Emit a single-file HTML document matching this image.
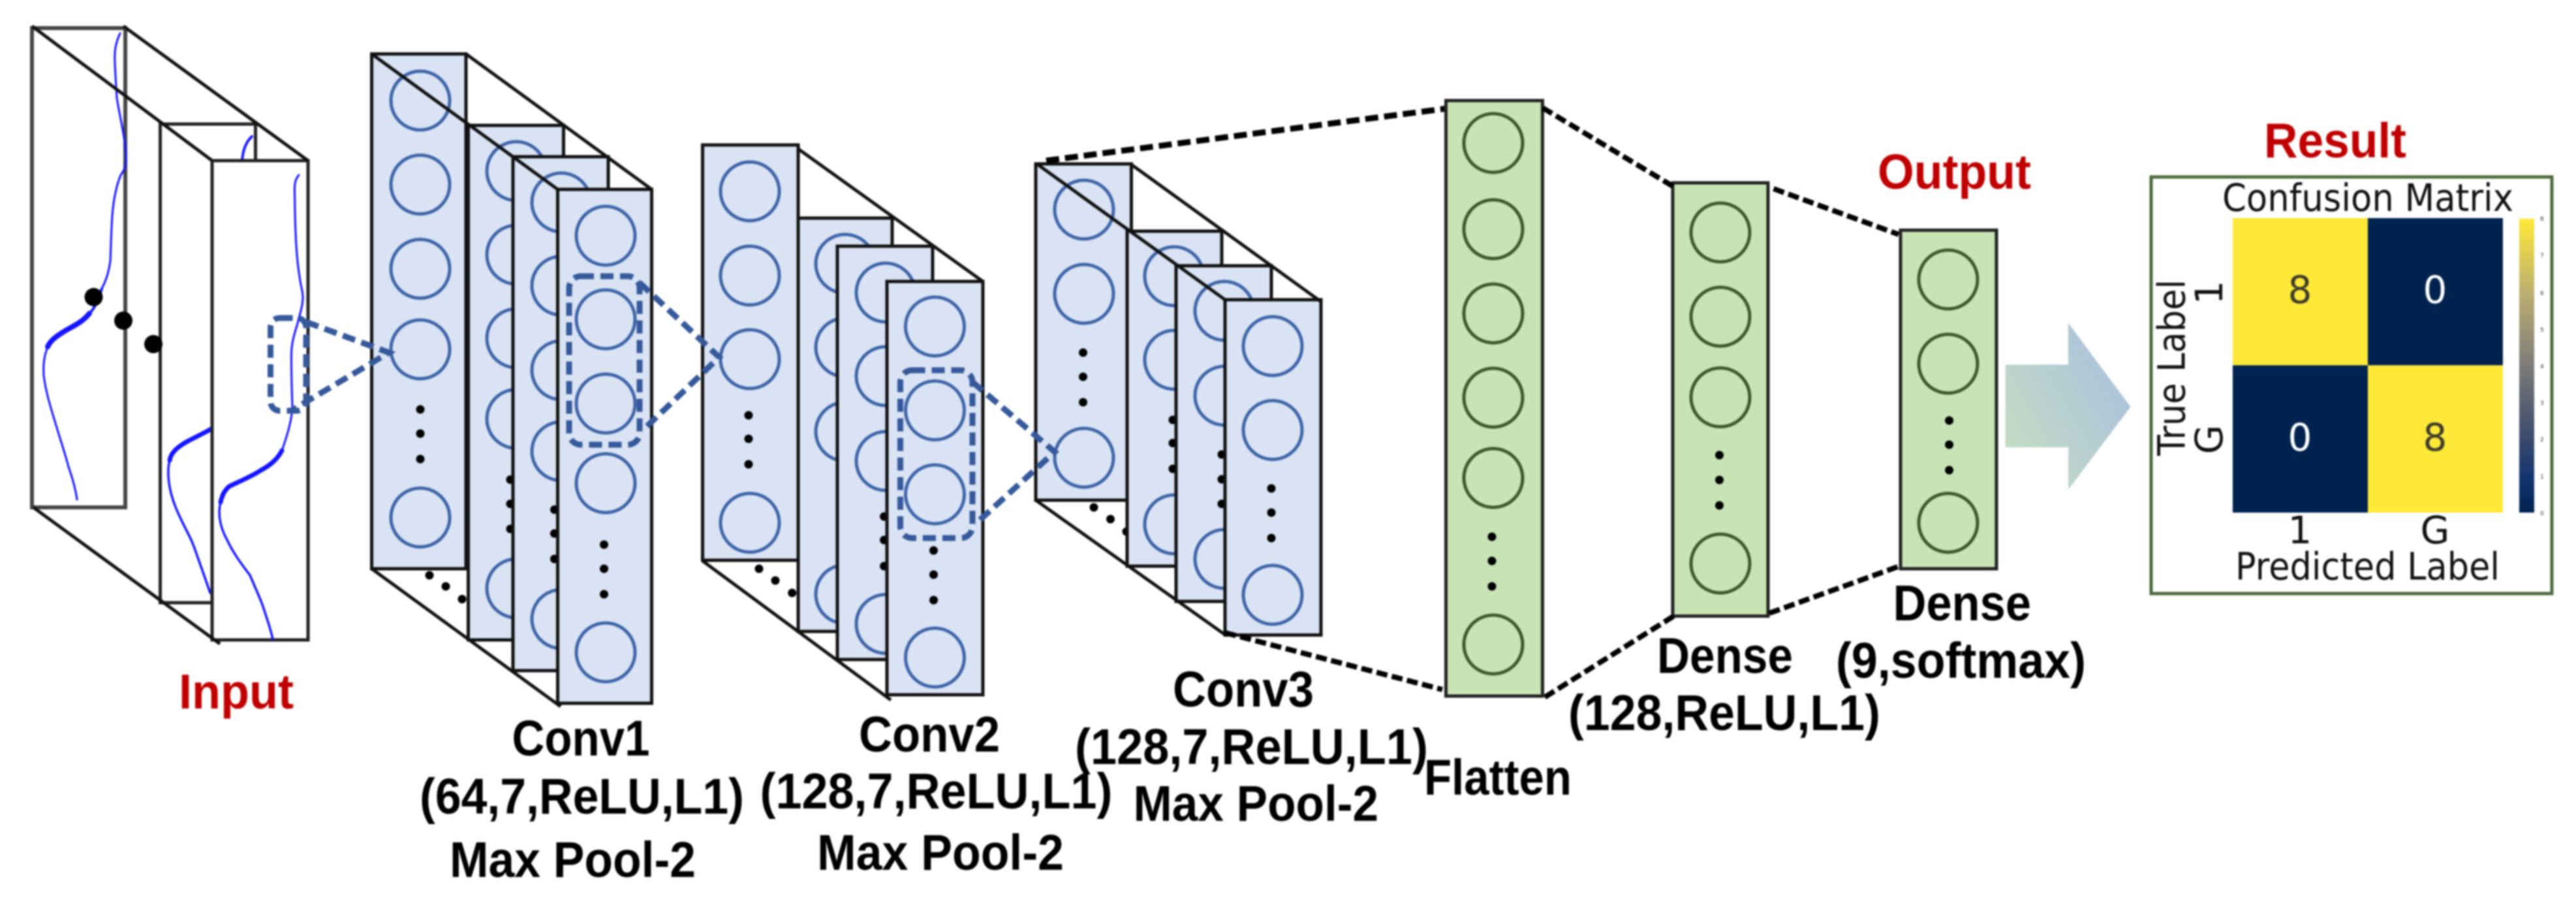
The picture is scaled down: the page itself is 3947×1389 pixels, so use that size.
<!DOCTYPE html>
<html>
<head>
<meta charset="utf-8">
<title>CNN architecture diagram</title>
<style>
html,body{margin:0;padding:0;background:#fff;width:3947px;height:1389px;overflow:hidden}
svg{display:block;filter:blur(1.2px)}
.b{font-family:"Liberation Sans",Arial,sans-serif;font-weight:bold;font-size:77px;fill:#000}
.r{font-family:"Liberation Sans",Arial,sans-serif;font-weight:bold;font-size:75px;fill:#c00000}
.d{font-family:"DejaVu Sans",sans-serif;font-size:58px;fill:#111}
.t{font-family:"DejaVu Sans",sans-serif;font-size:9px;fill:#333}
.fr{fill:#fff;stroke:#222;stroke-width:5}
.bl{fill:#dae3f3;stroke:#111;stroke-width:5}
.gr{fill:#c8e4b5;stroke:#222;stroke-width:5}
.cb{fill:none;stroke:#3d64a8;stroke-width:5}
.cg{fill:none;stroke:#3c5a28;stroke-width:5}
.k{fill:#000}
.di{stroke:#111;stroke-width:5;fill:none}
.cv{fill:none;stroke:#1414ff;stroke-linecap:round}
.bd{fill:none;stroke:#35599b;stroke-width:9;stroke-dasharray:20 10}
.kd{fill:none;stroke:#000;stroke-width:8;stroke-dasharray:17 7}
</style>
</head>
<body>
<svg width="3947" height="1389" viewBox="0 0 3947 1389" xmlns="http://www.w3.org/2000/svg">
<defs>
<linearGradient id="ag" x1="0" y1="1" x2="1" y2="0.25">
<stop offset="0" stop-color="#c6e0bf"/><stop offset="1" stop-color="#abc0de"/>
</linearGradient>
<linearGradient id="cbar" x1="0" y1="1" x2="0" y2="0">
<stop offset="0" stop-color="#00224e"/><stop offset="0.12" stop-color="#123570"/><stop offset="0.25" stop-color="#3b496c"/><stop offset="0.5" stop-color="#7c7b78"/><stop offset="0.75" stop-color="#bcaf6f"/><stop offset="1" stop-color="#fee838"/>
</linearGradient>
</defs>

<!-- INPUT -->
<rect class="fr" x="49" y="43" width="143" height="734" style="stroke:#444;stroke-width:6"/>
<path class="cv" stroke-width="3" d="M184 51C178 64 175 76 176 95C177 120 178 134 179 150C183 175 190 205 192 225C194 245 195 255 185 268C178 285 174 305 172 330C170 360 170 380 169 400C166 420 162 430 156 442"/>
<path class="cv" stroke-width="4" d="M156 442C150 462 145 472 137 480"/>
<path class="cv" stroke-width="8" d="M137 480C125 495 110 500 96 509C85 516 77 522 73 531"/>
<path class="cv" stroke-width="3" d="M73 531C68 545 66 555 67 575C70 600 78 625 84 645C92 672 100 695 105 715C112 735 116 750 118 765"/>
<rect class="fr" x="245.500" y="190" width="146" height="733"/>
<path class="cv" stroke-width="4" d="M386 209C376 218 372 232 371 246"/>
<path class="cv" stroke-width="7" d="M325 656C305 668 285 675 272 686C265 692 261 698 260 705"/>
<path class="cv" stroke-width="3.500" d="M260 705C256 720 257 745 268 774C280 805 292 820 300 845C308 868 316 890 322 908"/>
<rect class="fr" x="325" y="246" width="147" height="734"/>
<path class="cv" stroke-width="3" d="M458 268C452 275 451 282 451.500 296C452 320 452 340 453 357C454 385 456 405 459 424C461 440 464 445 464 455C464 470 458 485 456 495C450 515 447 525 446.500 540C446 565 447 590 448 625C446 650 438 672 432 690"/>
<path class="cv" stroke-width="7" d="M432 690C425 703 415 712 400 720C385 730 365 738 351 745C343 752 340 760 338 769"/>
<path class="cv" stroke-width="3.500" d="M338 769C334 785 336 805 348 827C360 852 375 870 383 881C392 902 398 915 402 926C410 950 415 965 418 979"/>
<path class="di" d="M49 40L325 246M189 40L472 246M51 777L337 986"/>
<ellipse class="k" cx="143.500" cy="455" rx="14" ry="14"/>
<ellipse class="k" cx="189" cy="491" rx="14" ry="14"/>
<ellipse class="k" cx="235" cy="527" rx="14" ry="14"/>

<!-- CONV1 -->
<rect class="bl" x="569.500" y="82.600" width="144.500" height="788.400"/>
<g class="cb"><circle cx="644" cy="154" r="45"/><circle cx="644" cy="282.600" r="45"/><circle cx="644" cy="411.600" r="45"/><circle cx="644" cy="535" r="45"/><circle cx="644" cy="792.500" r="45"/></g>
<circle class="k" cx="644" cy="627" r="6.500"/><circle class="k" cx="644" cy="664" r="6.500"/><circle class="k" cx="644" cy="703" r="6.500"/>
<circle class="k" cx="658" cy="881" r="6.500"/><circle class="k" cx="683" cy="898" r="6.500"/><circle class="k" cx="708" cy="917.500" r="6.500"/>
<rect class="bl" x="717.500" y="192" width="146" height="788"/>
<g class="cb"><circle cx="791" cy="262" r="45"/><circle cx="791" cy="390" r="45"/><circle cx="791" cy="518" r="45"/><circle cx="791" cy="641.500" r="45"/><circle cx="791" cy="901" r="45"/></g>
<circle class="k" cx="782" cy="734.500" r="6.500"/><circle class="k" cx="782" cy="771.600" r="6.500"/><circle class="k" cx="782" cy="810" r="6.500"/>
<rect class="bl" x="786" y="240" width="146" height="787"/>
<g class="cb"><circle cx="860" cy="310" r="45"/><circle cx="860" cy="437.500" r="45"/><circle cx="860" cy="567" r="45"/><circle cx="860" cy="691" r="45"/><circle cx="860" cy="948" r="45"/></g>
<circle class="k" cx="849.500" cy="780.500" r="6.500"/><circle class="k" cx="849.500" cy="817" r="6.500"/><circle class="k" cx="849.500" cy="856" r="6.500"/>
<rect class="bl" x="854.500" y="290" width="144" height="787"/>
<g class="cb"><circle cx="928" cy="361" r="45"/><circle cx="928" cy="489" r="45"/><circle cx="928" cy="618" r="45"/><circle cx="928" cy="740" r="45"/><circle cx="928" cy="999" r="45"/></g>
<circle class="k" cx="925.500" cy="834" r="6.500"/><circle class="k" cx="925.500" cy="871" r="6.500"/><circle class="k" cx="925.500" cy="910" r="6.500"/>
<path class="di" d="M569.500 82.600L854.500 290M714 82.600L998.500 290M569.500 871L859 1082"/>

<!-- CONV2 -->
<rect class="bl" x="1076.500" y="222" width="146.500" height="636"/>
<g class="cb"><circle cx="1149" cy="293" r="45"/><circle cx="1149" cy="422" r="45"/><circle cx="1149" cy="550" r="45"/><circle cx="1149" cy="800.600" r="45"/></g>
<circle class="k" cx="1147" cy="636" r="6.500"/><circle class="k" cx="1147" cy="672" r="6.500"/><circle class="k" cx="1147" cy="711" r="6.500"/>
<circle class="k" cx="1163" cy="871" r="6.500"/><circle class="k" cx="1188" cy="889" r="6.500"/><circle class="k" cx="1213.700" cy="908" r="6.500"/>
<rect class="bl" x="1223" y="334" width="144" height="633"/>
<g class="cb"><circle cx="1295" cy="404" r="45"/><circle cx="1295" cy="532" r="45"/><circle cx="1295" cy="661" r="45"/><circle cx="1295" cy="910" r="45"/></g>
<rect class="bl" x="1283" y="377" width="146" height="633"/>
<g class="cb"><circle cx="1357" cy="448" r="45"/><circle cx="1357" cy="576" r="45"/><circle cx="1357" cy="706" r="45"/><circle cx="1357" cy="955.500" r="45"/></g>
<circle class="k" cx="1354.600" cy="791" r="6.500"/><circle class="k" cx="1354.600" cy="827" r="6.500"/><circle class="k" cx="1354.600" cy="867" r="6.500"/>
<rect class="bl" x="1359" y="431" width="147" height="633"/>
<g class="cb"><circle cx="1432.500" cy="500" r="45"/><circle cx="1432.500" cy="628.500" r="45"/><circle cx="1432.500" cy="757" r="45"/><circle cx="1432.500" cy="1007" r="45"/></g>
<circle class="k" cx="1430.500" cy="843" r="6.500"/><circle class="k" cx="1430.500" cy="880" r="6.500"/><circle class="k" cx="1430.500" cy="919" r="6.500"/>
<path class="di" d="M1223 228L1506 431M1076.500 859L1365 1072"/>

<!-- CONV3 -->
<rect class="bl" x="1587" y="251" width="146.500" height="515"/>
<g class="cb"><circle cx="1661" cy="321" r="45"/><circle cx="1661" cy="450" r="45"/><circle cx="1661" cy="701" r="45"/></g>
<circle class="k" cx="1659.500" cy="540" r="6.500"/><circle class="k" cx="1659.500" cy="577" r="6.500"/><circle class="k" cx="1659.500" cy="616" r="6.500"/>
<circle class="k" cx="1676" cy="777" r="6.500"/><circle class="k" cx="1701.500" cy="795" r="6.500"/><circle class="k" cx="1726" cy="814" r="6.500"/>
<rect class="bl" x="1727" y="354" width="145" height="513"/>
<g class="cb"><circle cx="1799" cy="423" r="45"/><circle cx="1799" cy="551" r="45"/><circle cx="1799" cy="803" r="45"/></g>
<circle class="k" cx="1797" cy="643" r="6.500"/><circle class="k" cx="1797" cy="678.500" r="6.500"/><circle class="k" cx="1797" cy="718" r="6.500"/>
<rect class="bl" x="1802" y="407" width="146" height="514"/>
<g class="cb"><circle cx="1876" cy="476" r="45"/><circle cx="1876" cy="606" r="45"/><circle cx="1876" cy="856" r="45"/></g>
<circle class="k" cx="1872" cy="696" r="6.500"/><circle class="k" cx="1872" cy="734" r="6.500"/><circle class="k" cx="1872" cy="771.600" r="6.500"/>
<rect class="bl" x="1877" y="459" width="147" height="513.500"/>
<g class="cb"><circle cx="1950" cy="530" r="45"/><circle cx="1950" cy="658.500" r="45"/><circle cx="1950" cy="911" r="45"/></g>
<circle class="k" cx="1948" cy="748" r="6.500"/><circle class="k" cx="1948" cy="785" r="6.500"/><circle class="k" cx="1948" cy="824" r="6.500"/>
<path class="di" d="M1590 252L1877 459M1733.500 252L2025.500 463M1587 766L1877 972"/>

<!-- blue dashed connectors on top of the stacks -->
<rect class="bd" x="414.500" y="487" width="54.500" height="142" rx="14"/>
<path class="bd" d="M469 493L596 540L446 629"/>
<rect class="bd" x="872" y="423" width="108" height="258" rx="18"/>
<path class="bd" d="M980 433L1102 547L988 656"/>
<rect class="bd" x="1379.500" y="567" width="110.500" height="257" rx="18"/>
<path class="bd" d="M1490 585L1616 692L1494 803"/>

<path class="kd" stroke-width="9" style="stroke-width:9;stroke-dasharray:20 9" d="M1603 246L2213.600 166.500"/>
<path class="kd" d="M1877 969L2210 1056"/>

<!-- FLATTEN -->
<rect class="gr" x="2215.500" y="154" width="148" height="912"/>
<g class="cg"><circle cx="2288" cy="219" r="45"/><circle cx="2288" cy="351" r="45"/><circle cx="2288" cy="480" r="45"/><circle cx="2288" cy="609" r="45"/><circle cx="2288" cy="732" r="45"/><circle cx="2288" cy="987" r="45"/></g>
<circle class="k" cx="2286" cy="822" r="6.500"/><circle class="k" cx="2286" cy="859" r="6.500"/><circle class="k" cx="2286" cy="898" r="6.500"/>

<!-- DENSE 1 -->
<rect class="gr" x="2563" y="280" width="146" height="663.500"/>
<g class="cg"><circle cx="2636" cy="356" r="45"/><circle cx="2636" cy="485" r="45"/><circle cx="2636" cy="608.500" r="45"/><circle cx="2636" cy="863" r="45"/></g>
<circle class="k" cx="2634.500" cy="697" r="6.500"/><circle class="k" cx="2634.500" cy="735" r="6.500"/><circle class="k" cx="2634.500" cy="774" r="6.500"/>

<!-- DENSE 2 -->
<rect class="gr" x="2912" y="352.500" width="147" height="518.500"/>
<g class="cg"><circle cx="2985" cy="428" r="45"/><circle cx="2985" cy="557" r="45"/><circle cx="2985" cy="800.600" r="45"/></g>
<circle class="k" cx="2986.600" cy="644" r="6.500"/><circle class="k" cx="2986.600" cy="681" r="6.500"/><circle class="k" cx="2986.600" cy="720" r="6.500"/>

<path class="kd" d="M2363.500 165L2564.500 286"/>
<path class="kd" d="M2367 1067.600L2564.500 943.500"/>
<path class="kd" d="M2717.500 289L2909 359"/>
<path class="kd" d="M2711 939L2909 867.500"/>

<!-- ARROW -->
<path fill="url(#ag)" d="M3072.600 558.500H3169V494.600L3264.600 623L3169 750V685H3072.600Z"/>

<!-- RESULT -->
<rect x="3296" y="271" width="614" height="638" fill="#fff" stroke="#4c6a3c" stroke-width="5"/>
<rect x="3421" y="334" width="207" height="225.400" fill="#fee838"/>
<rect x="3628" y="334" width="207" height="225.400" fill="#00224e"/>
<rect x="3421" y="559.400" width="207" height="225.600" fill="#00224e"/>
<rect x="3628" y="559.400" width="207" height="225.600" fill="#fee838"/>
<rect x="3860" y="335" width="23" height="450" fill="url(#cbar)"/>
<g class="t">
<text x="3892" y="338">8</text><text x="3892" y="394">7</text><text x="3892" y="452">6</text><text x="3892" y="508">5</text><text x="3892" y="564">4</text><text x="3892" y="620">3</text><text x="3892" y="676">2</text><text x="3892" y="733">1</text><text x="3892" y="789">0</text>
</g>
<text class="d" x="3524" y="464" text-anchor="middle" style="fill:#3a3a2a">8</text>
<text class="d" x="3731" y="464" text-anchor="middle" style="fill:#fff">0</text>
<text class="d" x="3524" y="690" text-anchor="middle" style="fill:#fff">0</text>
<text class="d" x="3731" y="690" text-anchor="middle" style="fill:#3a3a2a">8</text>
<text class="d" x="3405" y="322.800" textLength="446" lengthAdjust="spacingAndGlyphs">Confusion Matrix</text>
<text class="d" x="3425" y="887.600" textLength="405" lengthAdjust="spacingAndGlyphs">Predicted Label</text>
<text class="d" x="3524" y="832" text-anchor="middle">1</text>
<text class="d" x="3731" y="832" text-anchor="middle">G</text>
<text class="d" transform="translate(3347.500 698) rotate(-90)" textLength="270" lengthAdjust="spacingAndGlyphs">True Label</text>
<text class="d" transform="translate(3405 448) rotate(-90)" text-anchor="middle">1</text>
<text class="d" transform="translate(3405 673) rotate(-90)" text-anchor="middle">G</text>

<!-- LABELS -->
<text class="r" x="274" y="1085" textLength="176" lengthAdjust="spacingAndGlyphs">Input</text>
<text class="r" x="2877" y="289" textLength="235" lengthAdjust="spacingAndGlyphs">Output</text>
<text class="r" x="3469" y="241" textLength="218" lengthAdjust="spacingAndGlyphs">Result</text>

<text class="b" x="784.500" y="1157" textLength="211" lengthAdjust="spacingAndGlyphs">Conv1</text>
<text class="b" x="643" y="1246" textLength="497" lengthAdjust="spacingAndGlyphs">(64,7,ReLU,L1)</text>
<text class="b" x="689" y="1343" textLength="377" lengthAdjust="spacingAndGlyphs">Max Pool-2</text>

<text class="b" x="1316" y="1151" textLength="216" lengthAdjust="spacingAndGlyphs">Conv2</text>
<text class="b" x="1164.500" y="1238" textLength="540" lengthAdjust="spacingAndGlyphs">(128,7,ReLU,L1)</text>
<text class="b" x="1252" y="1332" textLength="378" lengthAdjust="spacingAndGlyphs">Max Pool-2</text>

<text class="b" x="1797" y="1082" textLength="216" lengthAdjust="spacingAndGlyphs">Conv3</text>
<text class="b" x="1647" y="1170" textLength="541" lengthAdjust="spacingAndGlyphs">(128,7,ReLU,L1)</text>
<text class="b" x="1736.500" y="1257" textLength="375.500" lengthAdjust="spacingAndGlyphs">Max Pool-2</text>

<text class="b" x="2182" y="1217" textLength="226" lengthAdjust="spacingAndGlyphs">Flatten</text>
<text class="b" x="2539" y="1030.500" textLength="208" lengthAdjust="spacingAndGlyphs">Dense</text>
<text class="b" x="2403" y="1118" textLength="478" lengthAdjust="spacingAndGlyphs">(128,ReLU,L1)</text>
<text class="b" x="2900.600" y="950" textLength="211.400" lengthAdjust="spacingAndGlyphs">Dense</text>
<text class="b" x="2813" y="1038" textLength="383" lengthAdjust="spacingAndGlyphs">(9,softmax)</text>
</svg>
</body>
</html>
